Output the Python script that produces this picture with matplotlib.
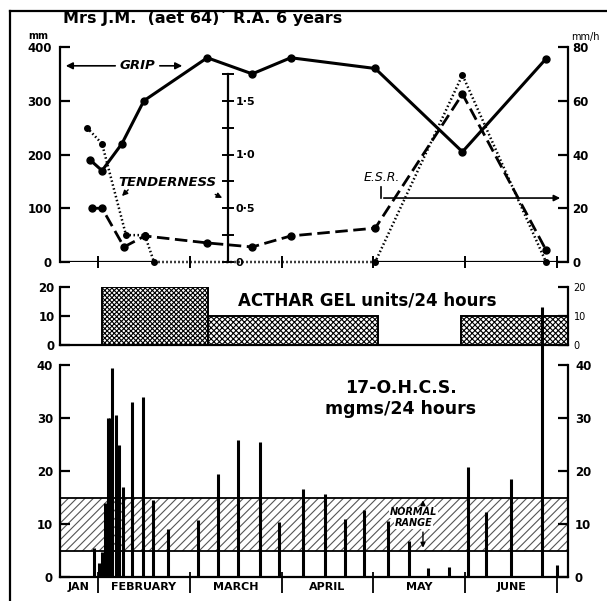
import matplotlib
matplotlib.use('Agg')
import matplotlib.pyplot as plt
from matplotlib.lines import Line2D

plt.rcParams['font.family'] = ['DejaVu Sans']
plt.rcParams['hatch.linewidth'] = 0.8

# x in month units: 1 = 1 Feb, 2 = 1 Mar, ... 6 = 1 Jul
XMIN, XMAX = 0.586, 6.12

grip_x = [0.913, 1.044, 1.26, 1.50, 2.19, 2.68, 3.10, 4.02, 4.97, 5.88]
grip_mm = [190, 170, 220, 300, 380, 350, 380, 360, 205, 378]

tend_x = [0.88, 1.044, 1.305, 1.51, 1.61, 4.02, 4.97, 5.88]
tend_val = [1.25, 1.10, 0.25, 0.25, 0.0, 0.0, 1.74, 0.0]

esr_x = [0.935, 1.044, 1.283, 1.51, 2.19, 2.68, 3.10, 4.02, 4.97, 5.88]
esr_val = [20, 20, 5.6, 9.7, 7.1, 5.6, 9.7, 12.6, 62.5, 4.5]

acthar_start = [1.044, 2.198, 4.954]
acthar_end = [2.198, 4.05, 6.12]
acthar_units = [20, 10, 10]
acthar_hatch = ['xxxxxxx', 'xxxxxx', 'xxxxxx']

ohcs_x = [0.956, 1.011, 1.044, 1.076, 1.109, 1.131, 1.153, 1.196, 1.229, 1.272,
          1.370, 1.490, 1.599, 1.763, 2.089, 2.307, 2.525, 2.765, 2.972, 3.233,
          3.473, 3.691, 3.898, 4.159, 4.388, 4.595, 4.824, 5.031, 5.227, 5.499,
          5.837, 6.0]
ohcs_val = [5.5, 2.6, 4.7, 14, 30, 30, 39.5, 30.5, 25, 17,
            33, 34, 14.5, 9, 10.8, 19.4, 25.8, 25.4, 10.4, 16.6,
            15.7, 11, 12.6, 10.6, 6.8, 1.7, 1.9, 20.7, 12.3, 18.5,
            51, 2.2]
normal_low, normal_high = 5, 15

months = ['JAN', 'FEBRUARY', 'MARCH', 'APRIL', 'MAY', 'JUNE']
month_bounds = [1, 2, 3, 4, 5, 6]

W, H = 607, 601
fig = plt.figure(figsize=(W / 100, H / 100), dpi=100)


def box(l, t, r, b):
    return [l / W, 1 - b / H, (r - l) / W, (b - t) / H]


TL = dict(fontsize=8.5, fontweight='bold')

# ---------------- top panel ----------------
ax1 = fig.add_axes(box(60, 47, 568, 262))
ax1.set_xlim(XMIN, XMAX)
ax1.set_ylim(0, 400)
for s in ['top', 'right', 'bottom']:
    ax1.spines[s].set_visible(False)
ax1.spines['left'].set_linewidth(1.6)
ax1.set_yticks([0, 100, 200, 300, 400])
ax1.set_yticklabels(['0', '100', '200', '300', '400'], **TL)
ax1.tick_params(axis='y', direction='in', length=7, width=1.6, pad=6)
ax1.set_xticks(month_bounds)
ax1.set_xticklabels([])
ax1.tick_params(axis='x', direction='inout', length=9, width=1.4)
ax1.hlines(0, XMIN, tend_x[4], color='black', lw=1.6)
ax1.hlines(0, tend_x[5], XMAX, color='black', lw=1.6)
ax1.plot(grip_x, grip_mm, '-', color='black', lw=2.2, marker='o', ms=5, zorder=5)

# ESR axis (right)
ax_e = ax1.twinx()
ax_e.set_xlim(XMIN, XMAX)
ax_e.set_ylim(0, 80)
for s in ['top', 'left', 'bottom']:
    ax_e.spines[s].set_visible(False)
ax_e.spines['right'].set_linewidth(1.6)
ax_e.set_yticks([0, 20, 40, 60, 80])
ax_e.set_yticklabels(['0', '20', '40', '60', '80'], **TL)
ax_e.tick_params(axis='y', direction='in', length=7, width=1.6, pad=3)
ax_e.plot(esr_x, esr_val, color='black', lw=2.0, linestyle=(0, (4.5, 2)),
          marker='o', ms=5, zorder=5)

# Tenderness axis (middle)
ax_t = ax1.twinx()
ax_t.set_xlim(XMIN, XMAX)
ax_t.set_ylim(0, 2.0)
for s in ['top', 'left', 'bottom']:
    ax_t.spines[s].set_visible(False)
ax_t.spines['right'].set_position(('data', 2.416))
ax_t.spines['right'].set_bounds(0, 1.75)
ax_t.spines['right'].set_linewidth(1.6)
ax_t.set_yticks([0, 0.25, 0.5, 0.75, 1.0, 1.25, 1.5, 1.75])
ax_t.set_yticklabels(['0', '', '0·5', '', '1·0', '', '1·5', ''], fontsize=8, fontweight='bold')
ax_t.tick_params(axis='y', direction='inout', length=9, width=1.4, pad=1)
ax_t.plot(tend_x, tend_val, color='black', lw=1.8, linestyle=(0, (0.6, 1.0)),
          marker='o', ms=4, zorder=5, clip_on=False)

# annotations
ax1.annotate('', xy=(0.619, 365), xytext=(1.218, 365),
             arrowprops=dict(arrowstyle='-|>', color='black', lw=1.2, mutation_scale=10))
ax1.annotate('', xy=(1.948, 365), xytext=(1.643, 365),
             arrowprops=dict(arrowstyle='-|>', color='black', lw=1.2, mutation_scale=10))
ax1.text(1.43, 365, 'GRIP', ha='center', va='center', fontsize=9.5,
         fontweight='bold', style='italic')
ax1.text(1.76, 147, 'TENDERNESS', ha='center', va='center', fontsize=9.5,
         fontweight='bold', style='italic')
ax1.annotate('', xy=(1.24, 119), xytext=(1.35, 138),
             arrowprops=dict(arrowstyle='-|>', color='black', lw=1.0, mutation_scale=8))
ax1.annotate('', xy=(2.38, 117), xytext=(2.25, 128),
             arrowprops=dict(arrowstyle='-|>', color='black', lw=1.0, mutation_scale=8))
ax1.text(4.09, 158, 'E.S.R.', ha='center', va='center', fontsize=9,
         style='italic')
ax1.plot([4.083, 4.083], [139.5, 119], color='black', lw=1.2)
ax1.annotate('', xy=(6.065, 119), xytext=(4.083, 119),
             arrowprops=dict(arrowstyle='-|>', color='black', lw=1.2, mutation_scale=9))

fig.text(38 / W, 1 - 36 / H, 'mm', fontsize=7, fontweight='bold', ha='center', va='center')
fig.text(585 / W, 1 - 37 / H, 'mm/h', fontsize=7, ha='center', va='center')
fig.text(63 / W, 1 - 18 / H, 'Mrs J.M.  (aet 64)\u00b4 R.A. 6 years', fontsize=11.5,
         fontweight='bold', ha='left', va='center')

# ---------------- middle panel (ACTHAR) ----------------
ax2 = fig.add_axes(box(60, 287, 568, 345))
ax2.set_xlim(XMIN, XMAX)
ax2.set_ylim(0, 20)
ax2.spines['top'].set_visible(False)
for s in ['left', 'right', 'bottom']:
    ax2.spines[s].set_linewidth(1.6)
ax2.set_xticks([])
ax2.set_yticks([0, 10, 20])
ax2.set_yticklabels(['0', '10', '20'], **TL)
ax2.tick_params(axis='y', direction='in', length=7, width=1.6, pad=6,
                right=True, labelright=True)
for lab in ax2.yaxis.get_ticklabels(which='major'):
    pass
for t in ax2.yaxis.get_major_ticks():
    t.label2.set_fontsize(7)
    t.label2.set_fontweight('normal')
    t.label2.set_x(1.0)
ax2.tick_params(axis='y', which='major', pad=4)
for s, e, u, h in zip(acthar_start, acthar_end, acthar_units, acthar_hatch):
    ax2.bar(s, u, width=e - s, align='edge', facecolor='white', edgecolor='black',
            lw=1.4, hatch=h)
ax2.text(3.93, 15.5, 'ACTHAR GEL units/24 hours', ha='center', va='center',
         fontsize=12, fontweight='bold')

# ---------------- bottom panel (17-OHCS) ----------------
ax3 = fig.add_axes(box(60, 365, 568, 577))
ax3.set_xlim(XMIN, XMAX)
ax3.set_ylim(0, 40)
ax3.spines['top'].set_visible(False)
for s in ['left', 'right', 'bottom']:
    ax3.spines[s].set_linewidth(1.6)
ax3.set_xticks([])
ax3.set_yticks([0, 10, 20, 30, 40])
ax3.set_yticklabels(['0', '10', '20', '30', '40'], **TL)
ax3.tick_params(axis='y', direction='in', length=7, width=1.6, pad=5,
                right=True, labelright=True)
ax3.axhspan(normal_low, normal_high, facecolor='white', edgecolor='#555555',
            hatch='////', lw=0, zorder=1)
ax3.hlines([normal_low, normal_high], XMIN, XMAX, color='black', lw=1.3, zorder=2)
vl = ax3.vlines(ohcs_x, 0, ohcs_val, color='black', lw=2.2, zorder=3)
vl.set_clip_on(False)
sep = ax3.vlines(month_bounds, -3.0, 0.9, color='black', lw=1.3, zorder=3)
sep.set_clip_on(False)
mids = [(XMIN + 1) / 2] + [m + 0.5 for m in month_bounds[:-1]]
for m, lab in zip(mids, months):
    ax3.text(m, -1.9, lab, ha='center', va='center', fontsize=8, fontweight='bold',
             clip_on=False)
ax3.text(4.3, 35.6, '17-O.H.C.S.', ha='center', va='center', fontsize=12.5,
         fontweight='bold')
ax3.text(4.3, 31.7, 'mgms/24 hours', ha='center', va='center', fontsize=12.5,
         fontweight='bold')
ax3.text(4.44, 12.2, 'NORMAL', ha='center', va='center', fontsize=7,
         fontweight='bold', style='italic', zorder=4,
         bbox=dict(facecolor='white', edgecolor='none', pad=0.5))
ax3.text(4.44, 10.2, 'RANGE', ha='center', va='center', fontsize=7,
         fontweight='bold', style='italic', zorder=4,
         bbox=dict(facecolor='white', edgecolor='none', pad=0.5))
ax3.annotate('', xy=(4.54, 15), xytext=(4.54, 13.2),
             arrowprops=dict(arrowstyle='-|>', color='black', lw=1.0, mutation_scale=7))
ax3.annotate('', xy=(4.54, 5), xytext=(4.54, 9.0),
             arrowprops=dict(arrowstyle='-|>', color='black', lw=1.0, mutation_scale=7))

# outer frame (left and top)
fig.add_artist(Line2D([10 / W, 10 / W], [0, 1 - 11 / H], color='black', lw=1.6,
                      transform=fig.transFigure))
fig.add_artist(Line2D([10 / W, 1], [1 - 11 / H, 1 - 11 / H], color='black', lw=1.6,
                      transform=fig.transFigure))

fig.savefig('out.png', dpi=100)
